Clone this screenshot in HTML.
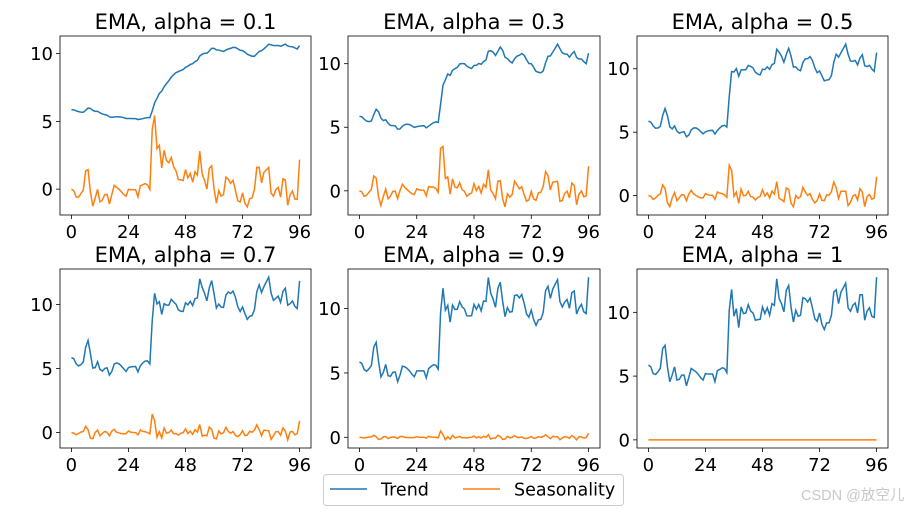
<!DOCTYPE html>
<html><head><meta charset="utf-8"><style>
body{margin:0;background:#fff;}
svg text{font-family:"DejaVu Sans","Liberation Sans",sans-serif;}
</style></head><body>
<svg id="fig" width="922" height="514" xmlns="http://www.w3.org/2000/svg">
<rect width="922" height="514" fill="#fff"/>
</svg>
<script>
// raw series (equals the alpha = 1 trend)
const series = [5.86,5.73,5.2,5.13,5.34,5.6,7.16,7.42,5.73,4.56,5.08,5.73,4.69,4.74,5.08,5.08,4.24,4.9,5.6,5.47,5.34,5.13,4.87,4.69,5.2,5.16,5.16,5.16,4.56,5.42,5.52,5.65,5.6,5.26,10.16,11.8,9.69,10.29,8.8,10.42,9.9,9.95,10.6,10.1,9.95,9.38,9.43,9.45,10.42,9.9,10.36,9.77,10.68,10.55,12.63,11.07,10.68,10.03,11.72,12.11,10.42,9.24,10.16,9.69,9.77,11.15,11.07,10.81,11.12,10.36,9.5,9.3,9.95,9.06,8.65,9.17,9.17,9.77,11.59,11.77,10.68,11.59,11.93,12.29,10.36,10.08,10.55,10.73,9.95,11.38,11.38,9.38,10.1,10.36,9.69,9.6,12.76];
const alphas = [0.1,0.3,0.5,0.7,0.9,1];
const xTicks = [0,24,48,72,96];
const yTicks = [0,5,10];
const seriesNames = ["Trend","Seasonality"];

const NS="http://www.w3.org/2000/svg";
const svg=document.getElementById('fig');
function mk(tag,attrs,parent){const e=document.createElementNS(NS,tag);for(const k in attrs)e.setAttribute(k,attrs[k]);(parent||svg).appendChild(e);return e;}

const cols=[[60,311],[348,600],[637,888]];
const rows=[[36,215],[269,448]];

alphas.forEach((a,idx)=>{
  const [x0,x1]=cols[idx%3];const [y0,y1]=rows[Math.floor(idx/3)];
  const trend=[];let e=series[0];
  series.forEach((v,i)=>{e=i===0?v:a*v+(1-a)*e;trend.push(e);});
  const seas=series.map((v,i)=>v-trend[i]);
  const all=trend.concat(seas);
  let mn=Math.min(...all),mx=Math.max(...all);const pad=(mx-mn)*0.05;mn-=pad;mx+=pad;
  const n=series.length-1;const xpad=n*0.05;
  const X=i=>x0+(i+xpad)/(n+2*xpad)*(x1-x0);
  const Y=v=>y1-(v-mn)/(mx-mn)*(y1-y0);
  const g=mk('g',{});
  
  
  const t=mk('text',{x:(x0+x1)/2,y:y0-7,'text-anchor':'middle','font-size':'21'},g);
  t.textContent='EMA, alpha = '+a;
  
  
  xTicks.forEach(v=>{
    mk('line',{x1:X(v),x2:X(v),y1:y1,y2:y1+4,stroke:'#000','stroke-width':0.8},g);
    const l=mk('text',{x:X(v),y:y1+23,'text-anchor':'middle','font-size':'18'},g);l.textContent=v;
    
    
  });
  yTicks.forEach(v=>{
    if(v<mn||v>mx)return;
    mk('line',{x1:x0-4,x2:x0,y1:Y(v),y2:Y(v),stroke:'#000','stroke-width':0.8},g);
    const l=mk('text',{x:x0-7,y:Y(v)+6.5,'text-anchor':'end','font-size':'18'},g);l.textContent=v;
    
    
  });
  const pt=trend.map((v,i)=>X(i).toFixed(2)+','+Y(v).toFixed(2)).join(' ');
  const ps=seas.map((v,i)=>X(i).toFixed(2)+','+Y(v).toFixed(2)).join(' ');
  const l1=mk('polyline',{points:pt,fill:'none',stroke:'#1f77b4','stroke-width':1.5},g);
  
  
  const l2=mk('polyline',{points:ps,fill:'none',stroke:'#ff7f0e','stroke-width':1.5},g);
  
  
  const b=mk('rect',{x:x0,y:y0,width:x1-x0,height:y1-y0,fill:'none',stroke:'#000','stroke-width':0.8},g);
  
  
});

// legend
const lg=mk('g',{});


mk('rect',{x:323.5,y:474.5,width:300,height:31,rx:3,fill:'#fff',stroke:'#ccc','stroke-width':1},lg);
const colors=['#1f77b4','#ff7f0e'];const lx=[330,463];
seriesNames.forEach((nm,i)=>{
  mk('line',{x1:lx[i],x2:lx[i]+37,y1:489,y2:489,stroke:colors[i],'stroke-width':1.5},lg);
  const t=mk('text',{x:lx[i]+51,y:495.5,'font-size':'17.5'},lg);t.textContent=nm;
  
  
});
const wm=mk('text',{x:801,y:500,'font-size':'14.5',fill:'#c8c8c8'});
wm.setAttribute('style','font-family:"Liberation Sans","Noto Sans CJK SC",sans-serif');
wm.textContent='CSDN @放空儿';


</script>
</body></html>
